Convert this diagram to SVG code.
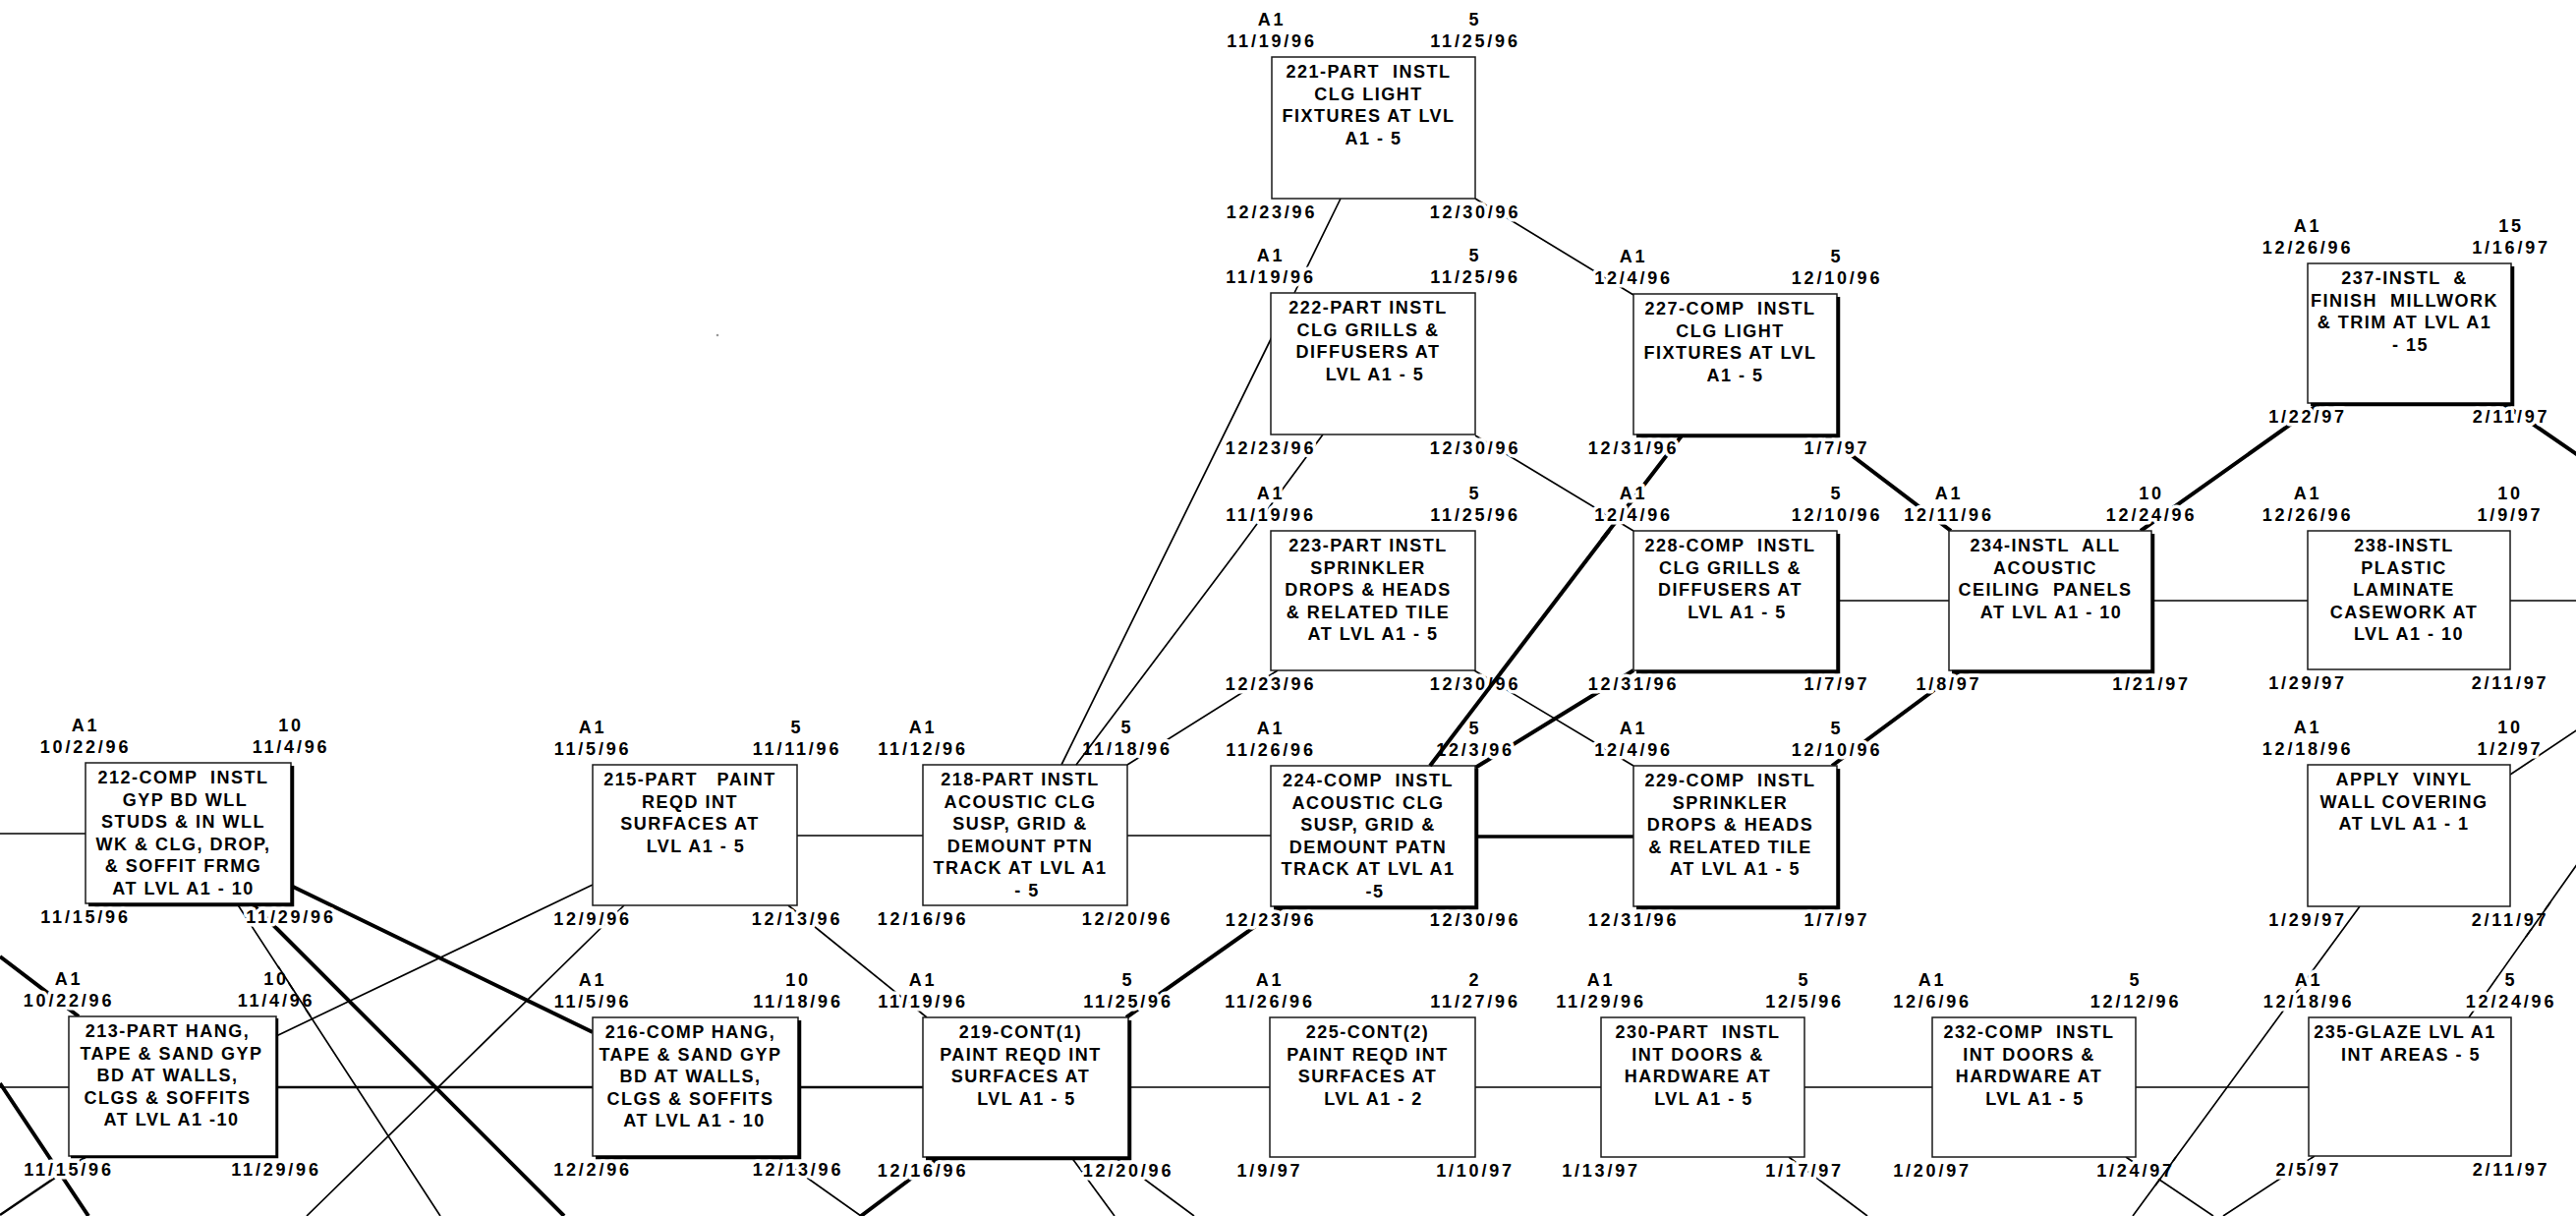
<svg xmlns="http://www.w3.org/2000/svg" width="2621" height="1237" viewBox="0 0 2621 1237">
<style>
.bx{fill:#fff;stroke:#1a1a1a;stroke-width:1.5}
.sh{fill:none;stroke:#000;stroke-width:3.5}
.t{font-family:"Liberation Sans",Arial,Helvetica,sans-serif;font-weight:bold;font-size:18px;letter-spacing:1.5px;text-anchor:middle;fill:#000}
.l{font-family:"Liberation Sans",Arial,Helvetica,sans-serif;font-weight:bold;font-size:18px;letter-spacing:2.8px;text-anchor:middle;fill:#000;stroke:#fff;stroke-width:7px;stroke-linejoin:round;paint-order:stroke}
.c{fill:none;stroke:#000;stroke-width:1.7}
.m{stroke-width:2.4}
.k{stroke-width:4}
</style>
<rect width="2621" height="1237" fill="#fff"/>
<g id="connectors">
<path class="c" d="M0 848H87M0 1106H70M1148 1106H1292M1501 1106H1629M1836 1106H1966M2173 1106H2349M811 850H939M1147 850H1293M1869 611H1983M2189 611H2348M2554 611H2621"/>
<path class="c m" d="M281 1106H603M812 1106H939"/>
<path class="c" style="stroke-width:3.5" d="M1501 851H1662"/>
<path class="c k" d="M0 973L80 1034M0 1102L90 1237M296 901L603 1050M256 919L574 1237M956 1177L876 1237M2546 410L2623 463M2361 410L2178 540M1856 442L1985 540M1995 682L1864 779M1712 442L1630 549M1662 682L1501 781M1306 922L1146 1035"/>
<path class="c m" d="M87 1177L0 1236"/>
<path class="c" d="M241 919L448 1237M603 900L281 1054M635 921L312 1237M802 921L943 1035M790 1176L876 1237M1090 1177L1134 1237M1134 1177L1215 1237M1820 1177L1900 1237M2163 1177L2252 1237M2355 1176L2262 1237M2401 922L2170 1237M2623 878L2512 1035M2554 788L2623 742M1500 682L1662 779M1501 443L1662 540M1501 202L1662 300M1364 202L1317 298M1294 343L1080 778M1346 442L1259 560M1300 682L1147 778"/>
<circle cx="730" cy="341" r="1.3" fill="#999"/>
</g>
<g id="n212">
<rect class="bx" x="87" y="776" width="209" height="143"/><path class="sh" d="M297.5 779V920.5H90"/>
<text class="t" x="186.5" y="797" xml:space="preserve">212-COMP  INSTL</text><text class="t" x="188.5" y="819.5">GYP BD WLL</text><text class="t" x="186.5" y="842">STUDS &amp; IN WLL</text><text class="t" x="186.5" y="864.5">WK &amp; CLG, DROP,</text><text class="t" x="186.5" y="887">&amp; SOFFIT FRMG</text><text class="t" x="186.5" y="909.5">AT LVL A1 - 10</text>
<text class="l" x="87" y="744">A1</text><text class="l" x="87" y="766">10/22/96</text><text class="l" x="296" y="744">10</text><text class="l" x="296" y="766">11/4/96</text><text class="l" x="87" y="939">11/15/96</text><text class="l" x="296" y="939">11/29/96</text>
</g>
<g id="n213">
<rect class="bx" x="70" y="1034" width="211" height="142"/><path class="sh" style="stroke-width:2.5" d="M282 1036V1177H72"/>
<text class="t" x="170.5" y="1055">213-PART HANG,</text><text class="t" x="174.5" y="1077.5">TAPE &amp; SAND GYP</text><text class="t" x="170.5" y="1100">BD AT WALLS,</text><text class="t" x="170.5" y="1122.5">CLGS &amp; SOFFITS</text><text class="t" x="174.5" y="1145">AT LVL A1 -10</text>
<text class="l" x="70" y="1002">A1</text><text class="l" x="70" y="1024">10/22/96</text><text class="l" x="281" y="1002">10</text><text class="l" x="281" y="1024">11/4/96</text><text class="l" x="70" y="1196">11/15/96</text><text class="l" x="281" y="1196">11/29/96</text>
</g>
<g id="n215">
<rect class="bx" x="603" y="778" width="208" height="143"/>
<text class="t" x="702" y="799" xml:space="preserve">215-PART   PAINT</text><text class="t" x="702" y="821.5">REQD INT</text><text class="t" x="702" y="844">SURFACES AT</text><text class="t" x="708" y="866.5">LVL A1 - 5</text>
<text class="l" x="603" y="746">A1</text><text class="l" x="603" y="768">11/5/96</text><text class="l" x="811" y="746">5</text><text class="l" x="811" y="768">11/11/96</text><text class="l" x="603" y="941">12/9/96</text><text class="l" x="811" y="941">12/13/96</text>
</g>
<g id="n216">
<rect class="bx" x="603" y="1035" width="209" height="141"/><path class="sh" d="M813.5 1038V1177.5H606"/>
<text class="t" x="702.5" y="1056">216-COMP HANG,</text><text class="t" x="702.5" y="1078.5">TAPE &amp; SAND GYP</text><text class="t" x="702.5" y="1101">BD AT WALLS,</text><text class="t" x="702.5" y="1123.5">CLGS &amp; SOFFITS</text><text class="t" x="706.5" y="1146">AT LVL A1 - 10</text>
<text class="l" x="603" y="1003">A1</text><text class="l" x="603" y="1025">11/5/96</text><text class="l" x="812" y="1003">10</text><text class="l" x="812" y="1025">11/18/96</text><text class="l" x="603" y="1196">12/2/96</text><text class="l" x="812" y="1196">12/13/96</text>
</g>
<g id="n218">
<rect class="bx" x="939" y="778" width="208" height="143"/>
<text class="t" x="1038" y="799">218-PART INSTL</text><text class="t" x="1038" y="821.5">ACOUSTIC CLG</text><text class="t" x="1038" y="844">SUSP, GRID &amp;</text><text class="t" x="1038" y="866.5">DEMOUNT PTN</text><text class="t" x="1038" y="889">TRACK AT LVL A1</text><text class="t" x="1045" y="911.5">- 5</text>
<text class="l" x="939" y="746">A1</text><text class="l" x="939" y="768">11/12/96</text><text class="l" x="1147" y="746">5</text><text class="l" x="1147" y="768">11/18/96</text><text class="l" x="939" y="941">12/16/96</text><text class="l" x="1147" y="941">12/20/96</text>
</g>
<g id="n219">
<rect class="bx" x="939" y="1035" width="209" height="142"/><path class="sh" d="M1149.5 1038V1178.5H942"/>
<text class="t" x="1038.5" y="1056">219-CONT(1)</text><text class="t" x="1038.5" y="1078.5">PAINT REQD INT</text><text class="t" x="1038.5" y="1101">SURFACES AT</text><text class="t" x="1044.5" y="1123.5">LVL A1 - 5</text>
<text class="l" x="939" y="1003">A1</text><text class="l" x="939" y="1025">11/19/96</text><text class="l" x="1148" y="1003">5</text><text class="l" x="1148" y="1025">11/25/96</text><text class="l" x="939" y="1197">12/16/96</text><text class="l" x="1148" y="1197">12/20/96</text>
</g>
<g id="n221">
<rect class="bx" x="1294" y="58" width="207" height="144"/>
<text class="t" x="1392.5" y="79" xml:space="preserve">221-PART  INSTL</text><text class="t" x="1392.5" y="101.5">CLG LIGHT</text><text class="t" x="1392.5" y="124">FIXTURES AT LVL</text><text class="t" x="1397.5" y="146.5">A1 - 5</text>
<text class="l" x="1294" y="26">A1</text><text class="l" x="1294" y="48">11/19/96</text><text class="l" x="1501" y="26">5</text><text class="l" x="1501" y="48">11/25/96</text><text class="l" x="1294" y="222">12/23/96</text><text class="l" x="1501" y="222">12/30/96</text>
</g>
<g id="n222">
<rect class="bx" x="1293" y="298" width="208" height="144"/>
<text class="t" x="1392" y="319">222-PART INSTL</text><text class="t" x="1392" y="341.5">CLG GRILLS &amp;</text><text class="t" x="1392" y="364">DIFFUSERS AT</text><text class="t" x="1399" y="386.5">LVL A1 - 5</text>
<text class="l" x="1293" y="266">A1</text><text class="l" x="1293" y="288">11/19/96</text><text class="l" x="1501" y="266">5</text><text class="l" x="1501" y="288">11/25/96</text><text class="l" x="1293" y="462">12/23/96</text><text class="l" x="1501" y="462">12/30/96</text>
</g>
<g id="n223">
<rect class="bx" x="1293" y="540" width="208" height="142"/>
<text class="t" x="1392" y="561">223-PART INSTL</text><text class="t" x="1392" y="583.5">SPRINKLER</text><text class="t" x="1392" y="606">DROPS &amp; HEADS</text><text class="t" x="1392" y="628.5">&amp; RELATED TILE</text><text class="t" x="1397" y="651">AT LVL A1 - 5</text>
<text class="l" x="1293" y="508">A1</text><text class="l" x="1293" y="530">11/19/96</text><text class="l" x="1501" y="508">5</text><text class="l" x="1501" y="530">11/25/96</text><text class="l" x="1293" y="702">12/23/96</text><text class="l" x="1501" y="702">12/30/96</text>
</g>
<g id="n224">
<rect class="bx" x="1293" y="779" width="208" height="143"/><path class="sh" d="M1502.5 782V923.5H1296"/>
<text class="t" x="1392" y="800" xml:space="preserve">224-COMP  INSTL</text><text class="t" x="1392" y="822.5">ACOUSTIC CLG</text><text class="t" x="1392" y="845">SUSP, GRID &amp;</text><text class="t" x="1392" y="867.5">DEMOUNT PATN</text><text class="t" x="1392" y="890">TRACK AT LVL A1</text><text class="t" x="1399" y="912.5">-5</text>
<text class="l" x="1293" y="747">A1</text><text class="l" x="1293" y="769">11/26/96</text><text class="l" x="1501" y="747">5</text><text class="l" x="1501" y="769">12/3/96</text><text class="l" x="1293" y="942">12/23/96</text><text class="l" x="1501" y="942">12/30/96</text>
</g>
<g id="n225">
<rect class="bx" x="1292" y="1035" width="209" height="142"/>
<text class="t" x="1391.5" y="1056">225-CONT(2)</text><text class="t" x="1391.5" y="1078.5">PAINT REQD INT</text><text class="t" x="1391.5" y="1101">SURFACES AT</text><text class="t" x="1397.5" y="1123.5">LVL A1 - 2</text>
<text class="l" x="1292" y="1003">A1</text><text class="l" x="1292" y="1025">11/26/96</text><text class="l" x="1501" y="1003">2</text><text class="l" x="1501" y="1025">11/27/96</text><text class="l" x="1292" y="1197">1/9/97</text><text class="l" x="1501" y="1197">1/10/97</text>
</g>
<g id="n227">
<rect class="bx" x="1662" y="299" width="207" height="143"/><path class="sh" d="M1870.5 302V443.5H1665"/>
<text class="t" x="1760.5" y="320" xml:space="preserve">227-COMP  INSTL</text><text class="t" x="1760.5" y="342.5">CLG LIGHT</text><text class="t" x="1760.5" y="365">FIXTURES AT LVL</text><text class="t" x="1765.5" y="387.5">A1 - 5</text>
<text class="l" x="1662" y="267">A1</text><text class="l" x="1662" y="289">12/4/96</text><text class="l" x="1869" y="267">5</text><text class="l" x="1869" y="289">12/10/96</text><text class="l" x="1662" y="462">12/31/96</text><text class="l" x="1869" y="462">1/7/97</text>
</g>
<g id="n228">
<rect class="bx" x="1662" y="540" width="207" height="142"/><path class="sh" d="M1870.5 543V683.5H1665"/>
<text class="t" x="1760.5" y="561" xml:space="preserve">228-COMP  INSTL</text><text class="t" x="1760.5" y="583.5">CLG GRILLS &amp;</text><text class="t" x="1760.5" y="606">DIFFUSERS AT</text><text class="t" x="1767.5" y="628.5">LVL A1 - 5</text>
<text class="l" x="1662" y="508">A1</text><text class="l" x="1662" y="530">12/4/96</text><text class="l" x="1869" y="508">5</text><text class="l" x="1869" y="530">12/10/96</text><text class="l" x="1662" y="702">12/31/96</text><text class="l" x="1869" y="702">1/7/97</text>
</g>
<g id="n229">
<rect class="bx" x="1662" y="779" width="207" height="143"/><path class="sh" d="M1870.5 782V923.5H1665"/>
<text class="t" x="1760.5" y="800" xml:space="preserve">229-COMP  INSTL</text><text class="t" x="1760.5" y="822.5">SPRINKLER</text><text class="t" x="1760.5" y="845">DROPS &amp; HEADS</text><text class="t" x="1760.5" y="867.5">&amp; RELATED TILE</text><text class="t" x="1765.5" y="890">AT LVL A1 - 5</text>
<text class="l" x="1662" y="747">A1</text><text class="l" x="1662" y="769">12/4/96</text><text class="l" x="1869" y="747">5</text><text class="l" x="1869" y="769">12/10/96</text><text class="l" x="1662" y="942">12/31/96</text><text class="l" x="1869" y="942">1/7/97</text>
</g>
<g id="n230">
<rect class="bx" x="1629" y="1035" width="207" height="142"/>
<text class="t" x="1727.5" y="1056" xml:space="preserve">230-PART  INSTL</text><text class="t" x="1727.5" y="1078.5">INT DOORS &amp;</text><text class="t" x="1727.5" y="1101">HARDWARE AT</text><text class="t" x="1733.5" y="1123.5">LVL A1 - 5</text>
<text class="l" x="1629" y="1003">A1</text><text class="l" x="1629" y="1025">11/29/96</text><text class="l" x="1836" y="1003">5</text><text class="l" x="1836" y="1025">12/5/96</text><text class="l" x="1629" y="1197">1/13/97</text><text class="l" x="1836" y="1197">1/17/97</text>
</g>
<g id="n232">
<rect class="bx" x="1966" y="1035" width="207" height="142"/>
<text class="t" x="2064.5" y="1056" xml:space="preserve">232-COMP  INSTL</text><text class="t" x="2064.5" y="1078.5">INT DOORS &amp;</text><text class="t" x="2064.5" y="1101">HARDWARE AT</text><text class="t" x="2070.5" y="1123.5">LVL A1 - 5</text>
<text class="l" x="1966" y="1003">A1</text><text class="l" x="1966" y="1025">12/6/96</text><text class="l" x="2173" y="1003">5</text><text class="l" x="2173" y="1025">12/12/96</text><text class="l" x="1966" y="1197">1/20/97</text><text class="l" x="2173" y="1197">1/24/97</text>
</g>
<g id="n234">
<rect class="bx" x="1983" y="540" width="206" height="142"/><path class="sh" d="M2190.5 543V683.5H1986"/>
<text class="t" x="2081" y="561" xml:space="preserve">234-INSTL  ALL</text><text class="t" x="2081" y="583.5">ACOUSTIC</text><text class="t" x="2081" y="606" xml:space="preserve">CEILING  PANELS</text><text class="t" x="2087" y="628.5">AT LVL A1 - 10</text>
<text class="l" x="1983" y="508">A1</text><text class="l" x="1983" y="530">12/11/96</text><text class="l" x="2189" y="508">10</text><text class="l" x="2189" y="530">12/24/96</text><text class="l" x="1983" y="702">1/8/97</text><text class="l" x="2189" y="702">1/21/97</text>
</g>
<g id="n235">
<rect class="bx" x="2349" y="1035" width="206" height="141"/>
<text class="t" x="2447" y="1056">235-GLAZE LVL A1</text><text class="t" x="2453" y="1078.5">INT AREAS - 5</text>
<text class="l" x="2349" y="1003">A1</text><text class="l" x="2349" y="1025">12/18/96</text><text class="l" x="2555" y="1003">5</text><text class="l" x="2555" y="1025">12/24/96</text><text class="l" x="2349" y="1196">2/5/97</text><text class="l" x="2555" y="1196">2/11/97</text>
</g>
<g id="n237">
<rect class="bx" x="2348" y="268" width="207" height="142"/><path class="sh" d="M2556.5 271V411.5H2351"/>
<text class="t" x="2446.5" y="289" xml:space="preserve">237-INSTL  &amp;</text><text class="t" x="2446.5" y="311.5" xml:space="preserve">FINISH  MILLWORK</text><text class="t" x="2446.5" y="334">&amp; TRIM AT LVL A1</text><text class="t" x="2452.5" y="356.5">- 15</text>
<text class="l" x="2348" y="236">A1</text><text class="l" x="2348" y="258">12/26/96</text><text class="l" x="2555" y="236">15</text><text class="l" x="2555" y="258">1/16/97</text><text class="l" x="2348" y="430">1/22/97</text><text class="l" x="2555" y="430">2/11/97</text>
</g>
<g id="n238">
<rect class="bx" x="2348" y="540" width="206" height="141"/>
<text class="t" x="2446" y="561">238-INSTL</text><text class="t" x="2446" y="583.5">PLASTIC</text><text class="t" x="2446" y="606">LAMINATE</text><text class="t" x="2446" y="628.5">CASEWORK AT</text><text class="t" x="2451" y="651">LVL A1 - 10</text>
<text class="l" x="2348" y="508">A1</text><text class="l" x="2348" y="530">12/26/96</text><text class="l" x="2554" y="508">10</text><text class="l" x="2554" y="530">1/9/97</text><text class="l" x="2348" y="701">1/29/97</text><text class="l" x="2554" y="701">2/11/97</text>
</g>
<g id="nvinyl">
<rect class="bx" x="2348" y="778" width="206" height="144"/>
<text class="t" x="2446" y="799" xml:space="preserve">APPLY  VINYL</text><text class="t" x="2446" y="821.5">WALL COVERING</text><text class="t" x="2446" y="844">AT LVL A1 - 1</text>
<text class="l" x="2348" y="746">A1</text><text class="l" x="2348" y="768">12/18/96</text><text class="l" x="2554" y="746">10</text><text class="l" x="2554" y="768">1/2/97</text><text class="l" x="2348" y="942">1/29/97</text><text class="l" x="2554" y="942">2/11/97</text>
</g>
<g id="connectors-over">
<path class="c" d="M283 983L316 1034M1259 560L1095 778M2214 1177L2193 1206M2595 918L2570 953"/>
<path class="c k" d="M1637 540L1455 779"/>
</g>
</svg>
